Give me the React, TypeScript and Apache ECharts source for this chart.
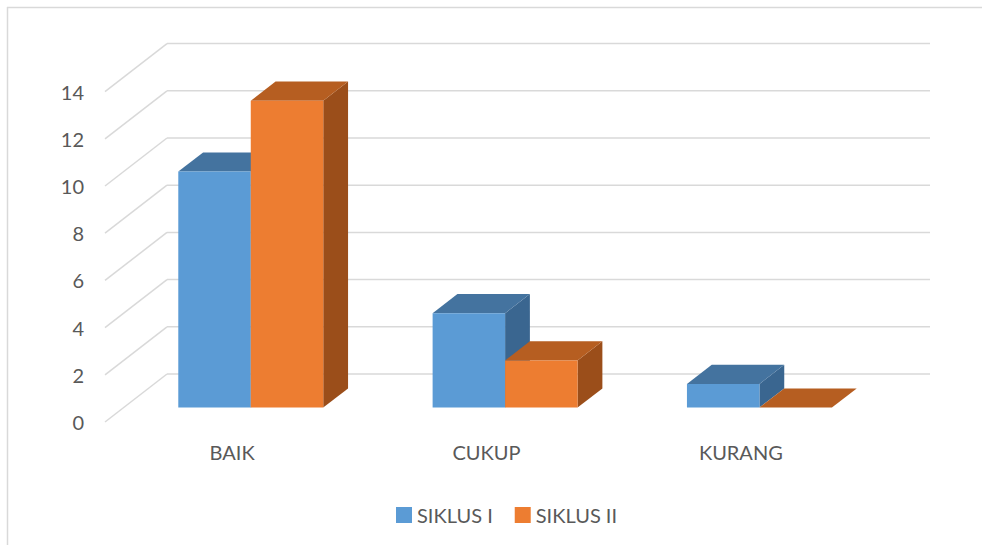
import React, { useEffect, useRef } from "react";
import * as echarts from "echarts";

const categories = ["BAIK", "CUKUP", "KURANG"];
const siklus1 = [10, 4, 1];
const siklus2 = [13, 2, 0];
const yTicks = [0, 2, 4, 6, 8, 10, 12, 14];
const seriesNames = ["SIKLUS I", "SIKLUS II"];

const DX = 62;
const DY = -48;
const FRONT_F = 0.3;
const DEPTH_F = 0.4;
const FONT = "Lato, 'Open Sans', sans-serif";
const TEXT_COLOR = "#595959";
const GRID_COLOR = "#D9D9D9";

const blue = { front: "#5B9BD5", top: "#44739F", side: "#3A6690" };
const orange = { front: "#ED7D31", top: "#B65E21", side: "#9B4E1A" };

function barRender(side: number, c: { front: string; top: string; side: string }) {
  return (params: any, api: any) => {
    const cat = api.value(0);
    const v = api.value(1);
    const top = api.coord([cat, v]);
    const base = api.coord([cat, 0]);
    const band = api.size([1, 0])[0];
    const w = band * 0.285;
    const fx = DX * FRONT_F;
    const fy = DY * FRONT_F;
    const bx = DX * DEPTH_F;
    const by = DY * DEPTH_F;
    const cx = top[0] + fx;
    const x0 = side < 0 ? cx - w : cx;
    const x1 = x0 + w;
    const yt = top[1] + fy;
    const yb = base[1] + fy;
    return {
      type: "group",
      children: [
        {
          type: "polygon",
          shape: { points: [[x1, yt], [x1 + bx, yt + by], [x1 + bx, yb + by], [x1, yb]] },
          style: { fill: c.side },
        },
        {
          type: "polygon",
          shape: { points: [[x0, yt], [x1, yt], [x1 + bx, yt + by], [x0 + bx, yt + by]] },
          style: { fill: c.top },
        },
        {
          type: "polygon",
          shape: { points: [[x0, yt], [x1, yt], [x1, yb], [x0, yb]] },
          style: { fill: c.front },
        },
      ],
    };
  };
}

function gridRender(params: any, api: any) {
  const v = api.value(1);
  const p = api.coord([0, v]);
  const left = params.coordSys.x;
  const right = left + params.coordSys.width;
  const y = p[1];
  return {
    type: "group",
    children: [
      {
        type: "line",
        shape: { x1: left, y1: y, x2: left + DX, y2: y + DY },
        style: { stroke: GRID_COLOR, lineWidth: 1.5 },
      },
      {
        type: "line",
        shape: { x1: left + DX, y1: y + DY, x2: right + DX, y2: y + DY },
        style: { stroke: GRID_COLOR, lineWidth: 1.5 },
      },
    ],
  };
}

export default function App() {
  const ref = useRef<HTMLDivElement>(null);
  useEffect(() => {
    if (!ref.current) return;
    const chart = echarts.init(ref.current, undefined, { renderer: "svg" });
    chart.setOption({
      animation: false,
      backgroundColor: "#FFFFFF",
      textStyle: { fontFamily: FONT },
      grid: { left: 105, right: 114, top: 91.6, bottom: 123 },
      legend: {
        data: seriesNames,
        left: 396,
        top: 505,
        padding: 0,
        itemWidth: 16,
        itemHeight: 16,
        itemGap: 22,
        icon: "rect",
        textStyle: { fontSize: 20, color: TEXT_COLOR, fontFamily: FONT },
      },
      xAxis: {
        type: "category",
        data: categories,
        axisLine: { show: false },
        axisTick: { show: false },
        splitLine: { show: false },
        axisLabel: { margin: 20, fontSize: 20, color: TEXT_COLOR, fontFamily: FONT },
      },
      yAxis: {
        type: "value",
        min: 0,
        max: 14,
        interval: 2,
        axisLine: { show: false },
        axisTick: { show: false },
        splitLine: { show: false },
        axisLabel: { margin: 21, fontSize: 20, color: TEXT_COLOR, fontFamily: FONT },
      },
      graphic: [
        {
          type: "line",
          shape: { x1: 7.5, y1: 7, x2: 7.5, y2: 545 },
          style: { stroke: GRID_COLOR, lineWidth: 1.5 },
          silent: true,
        },
        {
          type: "line",
          shape: { x1: 7, y1: 7.5, x2: 982, y2: 7.5 },
          style: { stroke: GRID_COLOR, lineWidth: 1.5 },
          silent: true,
        },
      ],
      series: [
        {
          name: "grid",
          type: "custom",
          silent: true,
          z: 1,
          renderItem: gridRender,
          data: yTicks.map((v) => [0, v]),
        },
        {
          name: seriesNames[0],
          type: "custom",
          z: 2,
          itemStyle: { color: blue.front },
          renderItem: barRender(-1, blue),
          data: siklus1.map((v, i) => [i, v]),
        },
        {
          name: seriesNames[1],
          type: "custom",
          z: 3,
          itemStyle: { color: orange.front },
          renderItem: barRender(1, orange),
          data: siklus2.map((v, i) => [i, v]),
        },
      ],
    });
    return () => chart.dispose();
  }, []);
  return (
    <div
      ref={ref}
      style={{ position: "fixed", left: 0, top: 0, width: 982, height: 545 }}
    />
  );
}
